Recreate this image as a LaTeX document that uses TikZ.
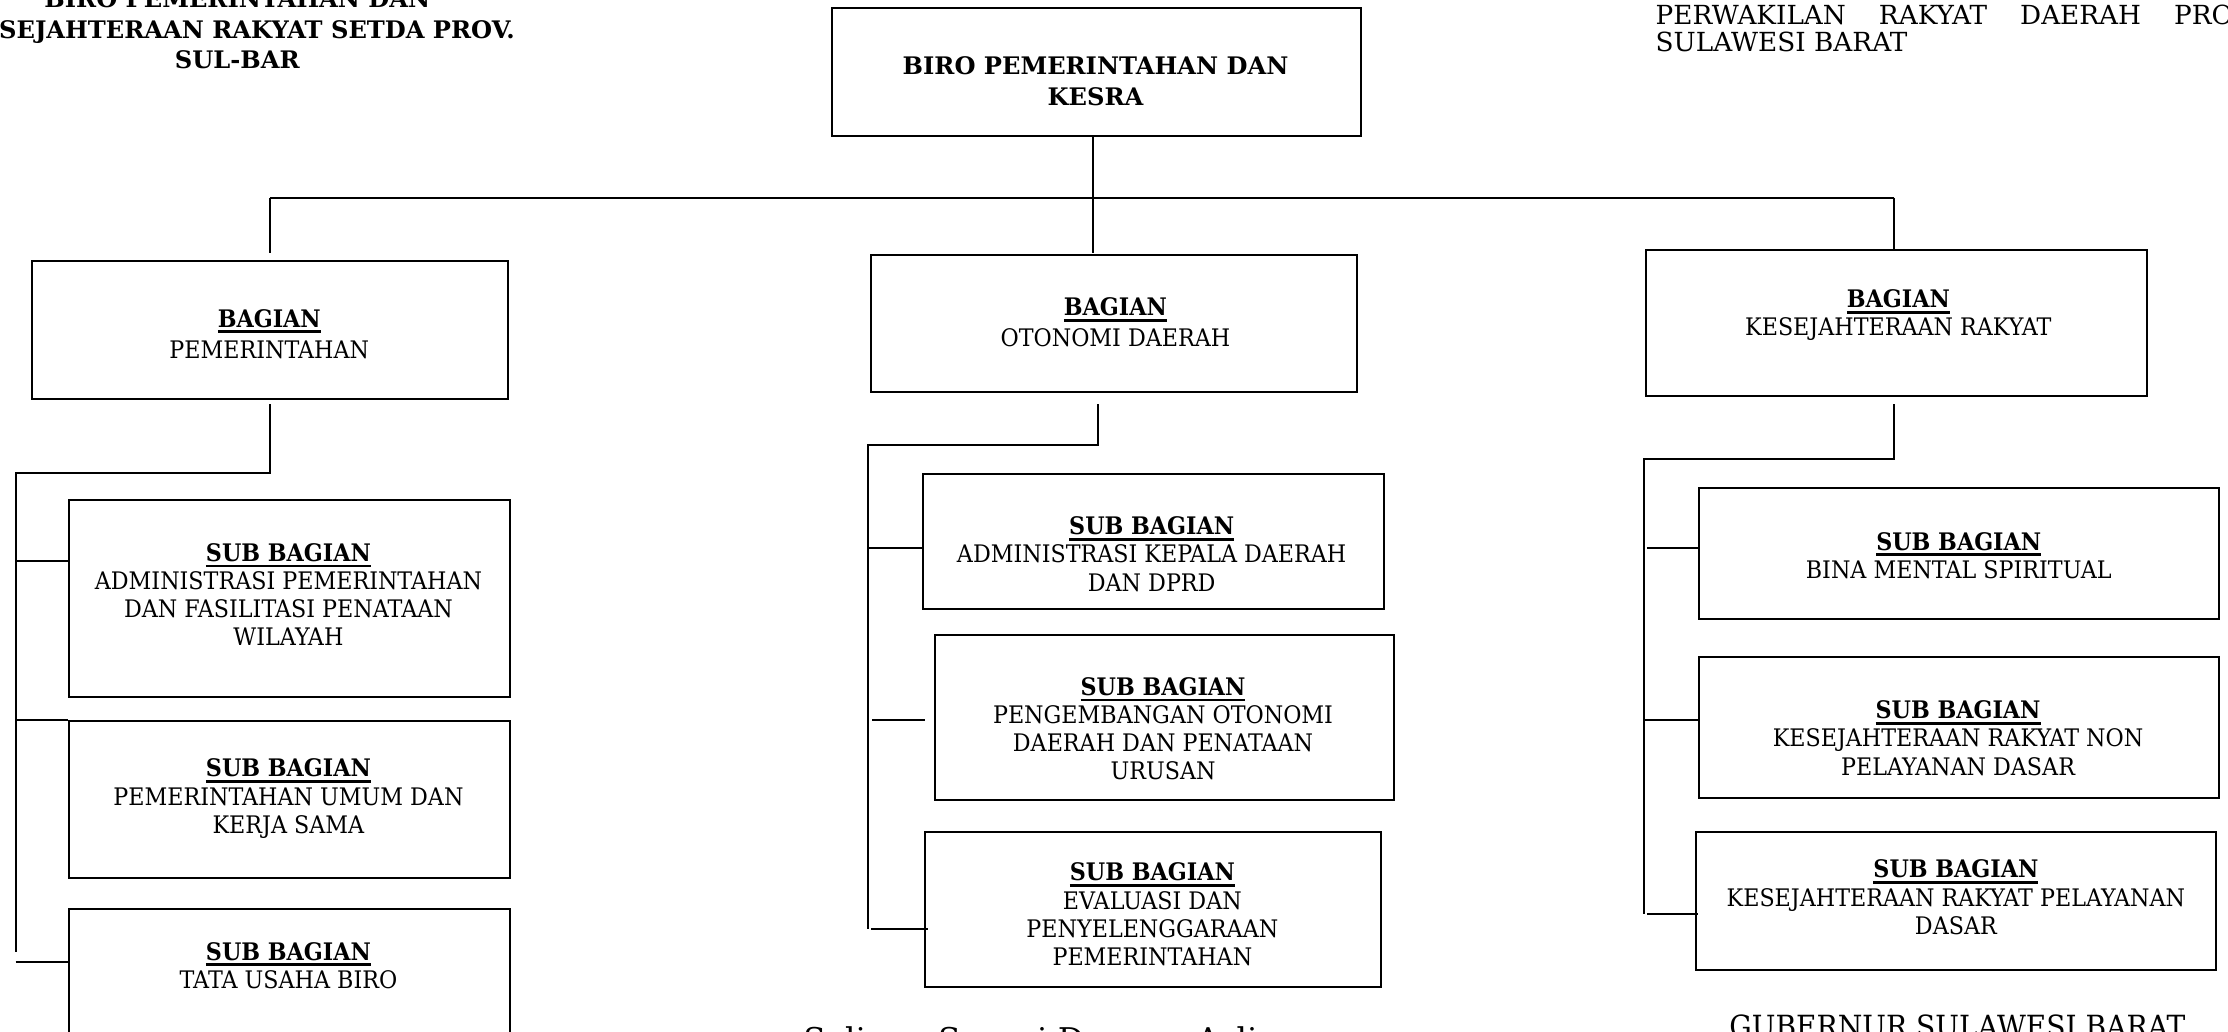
\documentclass[tikz,border=0pt]{standalone}
\usepackage{fontspec}
\setmainfont{DejaVu Serif}
\newfontfamily\narrow{DejaVu Serif}[FakeStretch=0.92]
\usetikzlibrary{calc}
% bold heading word with a heavy underline
\newcommand{\hdr}[1]{\setbox0=\hbox{\bfseries #1}\rlap{\vrule height -2.2pt depth 4.1pt width \wd0}\box0}
\tikzset{
  frame/.style={draw, line width=1.4pt, inner sep=0pt, anchor=north west},
  txt/.style={align=center, inner sep=0pt, font=\narrow\fontsize{17}{19.8}\selectfont},
  link/.style={line width=1.4pt},
  plain/.style={inner sep=0pt, align=center},
}
\begin{document}
\begin{tikzpicture}[x=1pt,y=-1pt]
\useasboundingbox (0,0) rectangle (1568,726);
\clip (0,0) rectangle (1568,726);
\fill[white] (0,0) rectangle (1568,726);

% heading texts
\node[plain, anchor=north, font=\fontsize{17}{21.5}\selectfont\bfseries] (title) at (167,-7.5)
  {BIRO PEMERINTAHAN DAN\\KESEJAHTERAAN RAKYAT SETDA PROV.\\SUL-BAR};
\node[plain, anchor=north west, font=\fontsize{18.5}{19.5}\selectfont] (dprd) at (1165,3)
  {\parbox[t]{463pt}{PERWAKILAN\hfill RAKYAT\hfill DAERAH\hfill PROVINSI\\SULAWESI BARAT}};

% head of the bureau
\node[frame, minimum width=372pt, minimum height=90pt] (top) at (585,5) {};
\node[plain, font=\fontsize{17}{22}\selectfont\bfseries] (topT) at (771,57)
  {BIRO PEMERINTAHAN DAN\\KESRA};

% divisions
\node[frame, minimum width=335pt, minimum height=97pt] (pem) at (22,183) {};
\node[txt, font=\narrow\fontsize{17}{22}\selectfont] (pemT) at (189.5,235) {\hdr{BAGIAN}\\PEMERINTAHAN};
\node[frame, minimum width=342pt, minimum height=96pt] (oto) at (612,179) {};
\node[txt, font=\narrow\fontsize{17}{22}\selectfont] (otoT) at (785,227) {\hdr{BAGIAN}\\OTONOMI DAERAH};
\node[frame, minimum width=352pt, minimum height=103pt] (kes) at (1158,175) {};
\node[txt] (kesT) at (1336,222) {\hdr{BAGIAN}\\KESEJAHTERAAN RAKYAT};

% sub-divisions, left column
\node[frame, minimum width=310pt, minimum height=139pt] (s1) at (48,351) {};
\node[txt] (s1T) at (203,418.5)
  {\hdr{SUB BAGIAN}\\ADMINISTRASI PEMERINTAHAN\\DAN FASILITASI PENATAAN\\WILAYAH};
\node[frame, minimum width=310pt, minimum height=110pt] (s2) at (48,507) {};
\node[txt] (s2T) at (203,562)
  {\hdr{SUB BAGIAN}\\PEMERINTAHAN UMUM DAN\\KERJA SAMA};
\node[frame, minimum width=310pt, minimum height=110pt] (s3) at (48,639) {};
\node[txt] (s3T) at (203,679.5)
  {\hdr{SUB BAGIAN}\\TATA USAHA BIRO};

% sub-divisions, middle column
\node[frame, minimum width=324pt, minimum height=95pt] (s4) at (649,333) {};
\node[txt] (s4T) at (810.5,390)
  {\hdr{SUB BAGIAN}\\ADMINISTRASI KEPALA DAERAH\\DAN DPRD};
\node[frame, minimum width=323pt, minimum height=116pt] (s5) at (657,446) {};
\node[txt] (s5T) at (818.5,513)
  {\hdr{SUB BAGIAN}\\PENGEMBANGAN OTONOMI\\DAERAH DAN PENATAAN\\URUSAN};
\node[frame, minimum width=321pt, minimum height=109pt] (s6) at (650,585) {};
\node[txt] (s6T) at (811,643.5)
  {\hdr{SUB BAGIAN}\\EVALUASI DAN\\PENYELENGGARAAN\\PEMERINTAHAN};

% sub-divisions, right column
\node[frame, minimum width=366pt, minimum height=92pt] (s7) at (1195,343) {};
\node[txt] (s7T) at (1378.5,391)
  {\hdr{SUB BAGIAN}\\BINA MENTAL SPIRITUAL};
\node[frame, minimum width=366pt, minimum height=99pt] (s8) at (1195,462) {};
\node[txt] (s8T) at (1378,519.5)
  {\hdr{SUB BAGIAN}\\KESEJAHTERAAN RAKYAT NON\\PELAYANAN DASAR};
\node[frame, minimum width=366pt, minimum height=97pt] (s9) at (1193,585) {};
\node[txt] (s9T) at (1376.5,631.5)
  {\hdr{SUB BAGIAN}\\KESEJAHTERAAN RAKYAT PELAYANAN\\DASAR};

% footer texts
\node[plain, anchor=base, font=\fontsize{23}{28}\selectfont] (sal) at (746,740) {Salinan Sesuai Dengan Aslinya};
\node[plain, anchor=base, font=\narrow\fontsize{21.5}{26}\selectfont] (gub) at (1377.5,730) {GUBERNUR SULAWESI BARAT};

% junctions
\coordinate (jc) at (769,139);
\coordinate (jl) at (190,139);
\coordinate (jr) at (1333,139);
\coordinate (lA) at (11,333);
\coordinate (lB) at (11,670);
\coordinate (l1) at (11,395);
\coordinate (l2) at (11,507);
\coordinate (l3) at (11,677);
\coordinate (mA) at (773,313);
\coordinate (mB) at (611,313);
\coordinate (mC) at (611,654);
\coordinate (m1) at (611,386);
\coordinate (m2) at (614,507);
\coordinate (m3) at (613,654);
\coordinate (rA) at (1333,323);
\coordinate (rB) at (1157,323);
\coordinate (rC) at (1157,643);
\coordinate (r1) at (1159,386);
\coordinate (r2) at (1157,507);
\coordinate (r3) at (1159,643);

% head to divisions
\draw[link] (top.south -| jc) -- ($(jc |- oto.north)+(0,-1)$);
\draw[link] (jl) -- (jr);
\draw[link] (jl) -- ($(jl |- pem.north)+(0,-5)$);
\draw[link] (jr) -- (jr |- kes.north);

% left column
\draw[link] ($(pem.south -| jl)+(0,3)$) |- (lA) -- (lB);
\draw[link] (l1) -- (l1 -| s1.west);
\draw[link] (l2) -- (l2 -| s2.west);
\draw[link] (l3) -- (l3 -| s3.west);

% middle column
\draw[link] ($(oto.south -| mA)+(0,8)$) -- (mA) -- (mB) -- (mC);
\draw[link] (m1) -- (m1 -| s4.west);
\draw[link] (m2) -- ($(m2 -| s5.west)+(-6,0)$);
\draw[link] (m3) -- ($(m3 -| s6.west)+(3,0)$);

% right column
\draw[link] ($(kes.south -| rA)+(0,5)$) -- (rA) -- (rB) -- (rC);
\draw[link] (r1) -- (r1 -| s7.west);
\draw[link] (r2) -- (r2 -| s8.west);
\draw[link] (r3) -- ($(r3 -| s9.west)+(2,0)$);
\end{tikzpicture}
\end{document}
